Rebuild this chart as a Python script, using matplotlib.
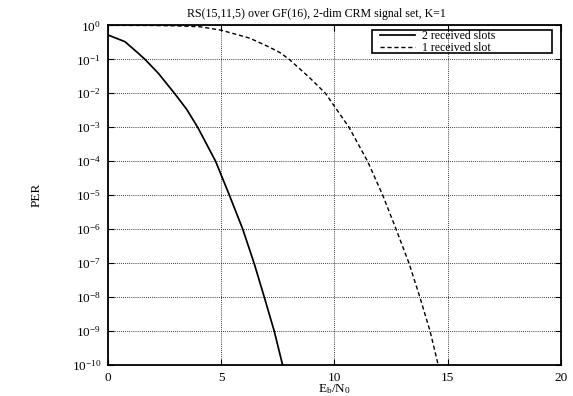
import matplotlib
matplotlib.use("Agg")
import matplotlib.pyplot as plt
from matplotlib.ticker import LogLocator, NullLocator, FixedLocator
from matplotlib.patches import Rectangle

plt.rcParams['font.family'] = ['Liberation Serif', 'DejaVu Serif']
plt.rcParams['mathtext.fontset'] = 'custom'
plt.rcParams['mathtext.rm'] = 'Liberation Serif'
plt.rcParams['mathtext.it'] = 'Liberation Serif:italic'

title = "RS(15,11,5) over GF(16), 2-dim CRM signal set, K=1"
label_two = "2 received slots"
label_one = "1 received slot"

x_two = [0.0, 0.75, 1.34, 1.63, 2.22, 2.96, 3.47, 3.96, 4.75, 5.36, 5.95, 6.45, 6.90, 7.34, 7.71]
per_two = [0.52, 0.33, 0.15, 0.1, 0.039, 0.0095, 0.0034, 1e-3, 1e-4, 1e-5, 1e-6, 1e-7, 1e-8, 1e-9, 1e-10]

x_one = [0.0, 2.0, 3.0, 4.06, 5.0, 6.27, 7.15, 7.59, 8.0, 8.92, 9.6, 10.64, 11.46, 12.13, 12.72, 13.29, 13.77, 14.22, 14.58]
per_one = [1.0, 0.99, 0.966, 0.91, 0.72, 0.417, 0.224, 0.158, 0.1, 0.028, 1e-2, 1e-3, 1e-4, 1e-5, 1e-6, 1e-7, 1e-8, 1e-9, 1e-10]

x_ticks = [0, 5, 10, 15, 20]

fig = plt.figure(figsize=(5.73, 3.96), dpi=100)
ax = fig.add_axes([0.1885, 0.078, 0.7905, 0.858])

ax.plot(x_two, per_two, color='black', lw=1.25, label=label_two)
ax.plot(x_one, per_one, color='black', lw=1.0, ls=(0, (3, 2)), label=label_one)

ax.set_yscale('log')
ax.set_xlim(0, 20)
ax.set_ylim(1e-10, 1)
ax.xaxis.set_major_locator(FixedLocator(x_ticks))
ax.yaxis.set_major_locator(LogLocator(base=10, numticks=20))
ax.yaxis.set_minor_locator(NullLocator())

ax.grid(True, which='major', color='black', ls=(0, (1, 1.5)), lw=0.6)
ax.tick_params(direction='in', top=True, right=True, length=4, width=0.8, labelsize=9.5, pad=5)
for s in ax.spines.values():
    s.set_linewidth(1.3)

ax.set_title(title, fontsize=8.6, pad=6, x=0.461)
ax.set_xlabel(r"E$_\mathrm{b}$/N$_\mathrm{0}$", fontsize=9.5, labelpad=-1)
ax.set_ylabel("PER", fontsize=9.5)
ax.yaxis.set_label_coords(-0.144, 0.5)

leg = ax.legend(loc='upper left', bbox_to_anchor=(0.600, 0.985), frameon=False,
                fontsize=8.5, borderpad=0.0, labelspacing=-0.05, handlelength=2.97,
                handletextpad=0.6, borderaxespad=0.0)
ax.add_patch(Rectangle((0.583, 0.919), 0.397, 0.066, transform=ax.transAxes,
                       fill=False, edgecolor='black', lw=1.2, zorder=5))

fig.savefig("out.png", dpi=100)
